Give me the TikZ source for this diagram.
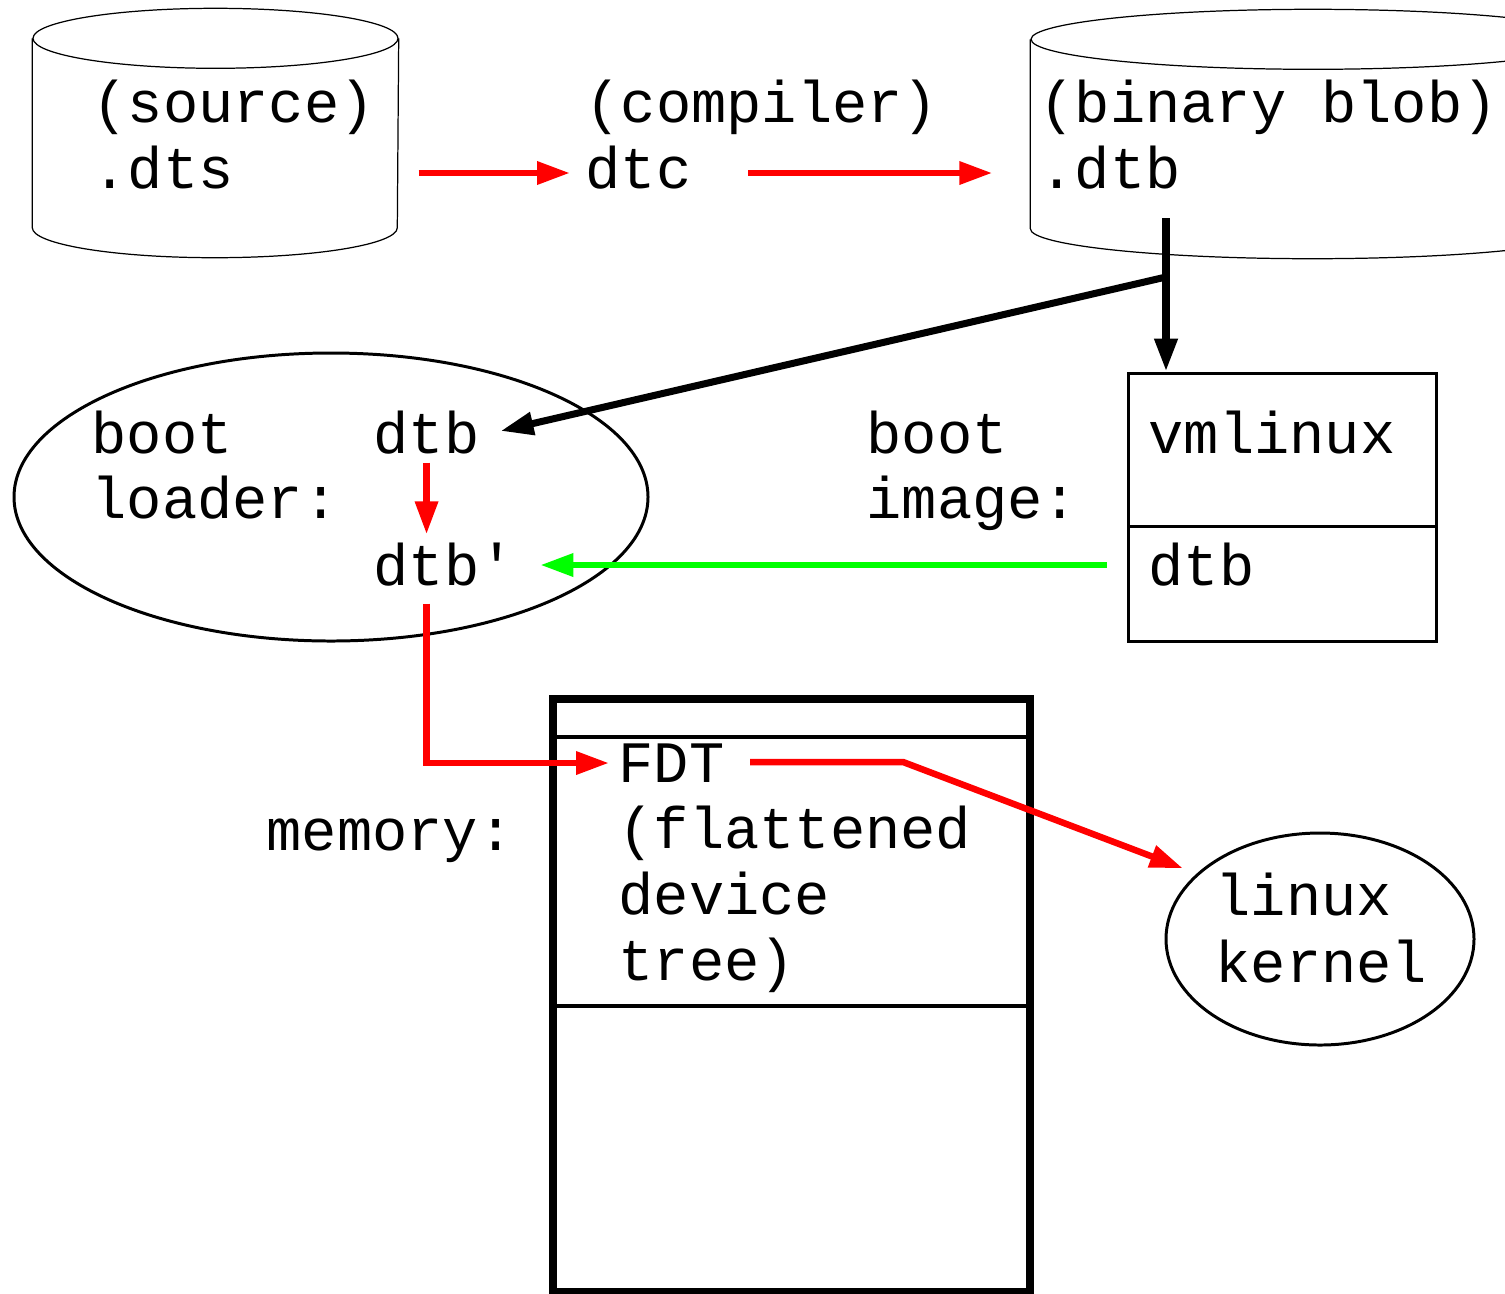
\documentclass[tikz,border=0pt]{standalone}
\usepackage{fontspec}
\usepackage{tikz}
\usetikzlibrary{arrows.meta}
\usetikzlibrary{shapes.geometric}
\usetikzlibrary{positioning}
\newfontfamily\codefont{Liberation Mono}
\definecolor{flow-red}{HTML}{FF0000}
\definecolor{flow-green}{HTML}{00FF00}

\begin{document}
\begin{tikzpicture}[
    word/.style={font=\codefont\fontsize{16.7}{18.8}\selectfont, inner sep=0pt,
                 anchor=base west, text height=0.40cm, text depth=0cm},
    drum/.style={line width=0.35pt},
    frame/.style={draw, line width=0.85pt, inner sep=0pt},
    flow/.style={-{Triangle[length=3.3mm, width=2.2mm]}, line width=1.85pt},
]

    \useasboundingbox (0,0) rectangle (15.05,-12.93);
    \clip (0,0) rectangle (15.05,-12.93);

    % drums
    \begin{scope}[every node/.style={inner sep=0pt, minimum height=2.48cm}]
        \node[minimum width=3.65cm] (srcdb) at (2.155,-1.33) {};
        \node[minimum width=5.64cm] (blobdb) at (13.13,-1.34) {};
    \end{scope}
    \draw[drum] ([yshift=-3mm]srcdb.north) ellipse [x radius=1.825, y radius=0.30];
    \draw[drum] ([yshift=-3mm]srcdb.north west) -- ([yshift=3mm]srcdb.south west)
        arc[start angle=180, end angle=360, x radius=1.825, y radius=0.30] -- ([yshift=-3mm]srcdb.north east);
    \draw[drum] ([yshift=-3mm]blobdb.north) ellipse [x radius=2.82, y radius=0.30];
    \draw[drum] ([yshift=-3mm]blobdb.north west) -- ([yshift=3mm]blobdb.south west)
        arc[start angle=180, end angle=360, x radius=2.82, y radius=0.30] -- ([yshift=-3mm]blobdb.north east);

    % boxes and ellipses
    \node[ellipse, draw, line width=0.85pt, inner sep=0pt, minimum width=6.34cm, minimum height=2.88cm] (loader) at (3.31,-4.97) {};
    \node[ellipse, draw, line width=0.85pt, inner sep=0pt, minimum width=3.08cm, minimum height=2.12cm] (kern) at (13.20,-9.39) {};
    \node[frame, minimum width=3.08cm, minimum height=1.53cm] (vml) at (12.82,-4.495) {};
    \node[frame, minimum width=3.08cm, minimum height=1.15cm] (img) at (12.82,-5.835) {};
    \node[draw, line width=2.1pt, inner sep=0pt, minimum width=4.77cm, minimum height=5.93cm] (mem) at (7.915,-9.955) {};
    \draw[line width=1.2pt] (mem.west |- 0,-7.37) -- (mem.east |- 0,-7.37);
    \draw[line width=1pt] (mem.west |- 0,-10.06) -- (mem.east |- 0,-10.06);

    % labels
    \begin{scope}[every node/.style={word}]
        \node (src) at (0.92,-1.22) {(source)};
        \node (dts) at (0.92,-1.88) {.dts};
        \node (comp) at (5.85,-1.22) {(compiler)};
        \node (dtc) at (5.85,-1.88) {dtc};
        \node (blob) at (10.39,-1.22) {(binary blob)};
        \node (dtbfile) at (10.39,-1.88) {.dtb};

        \node (boot) at (0.91,-4.53) {boot};
        \node (ldr) at (0.91,-5.18) {loader:};
        \node (dtb) at (3.73,-4.53) {dtb};
        \node (dtbp) at (3.73,-5.85) {dtb'};

        \node (bimg) at (8.66,-4.53) {boot};
        \node (image) at (8.66,-5.18) {image:};
        \node (vmlinux) at (11.48,-4.53) {vmlinux};
        \node (imgdtb) at (11.48,-5.85) {dtb};

        \node (memory) at (2.66,-8.50) {memory:};
        \node (fdt) at (6.18,-7.82) {FDT};
        \node (flat) at (6.18,-8.48) {(flattened};
        \node (device) at (6.18,-9.14) {device};
        \node (tree) at (6.18,-9.80) {tree)};

        \node (linux) at (12.15,-9.15) {linux};
        \node (kernel) at (12.15,-9.82) {kernel};
    \end{scope}

    % compile chain
    \draw[flow, flow-red] ([xshift=2mm, yshift=-0.5mm]srcdb.east |- dtc.west) -- ([xshift=-1.5mm, yshift=-0.5mm]dtc.west);
    \draw[flow, flow-red] ([xshift=5.6mm, yshift=-0.5mm]dtc.east) -- ([xshift=-3.8mm, yshift=-0.5mm]blobdb.west |- dtc.east);

    % blob goes into the image and to the loader
    \coordinate (drop) at (11.66,-2.18);
    \coordinate (fork) at (11.66,-2.77);
    \draw[flow, line width=2.1pt] (drop) -- (drop |- vml.north);
    \draw[flow, line width=2pt] (fork) -- ([xshift=2.05mm, yshift=0.2mm]dtb.east);

    % boot
    \draw[flow, flow-red] ([yshift=-0.9mm]dtb.south) -- ([yshift=1mm]dtb.south |- dtbp.north);
    \draw[flow, flow-green] ([xshift=-2mm]img.west |- dtbp.east) -- ([xshift=2.5mm]dtbp.east);
    \draw[flow, flow-red] ([yshift=-1.8mm]dtb.south |- dtbp.south) |- ([xshift=-0.9mm, yshift=-0.1mm]fdt.west);
    \draw[flow, flow-red, shorten >=1.5mm] ([xshift=2.5mm]fdt.east) -- ++(1.53,0) -- (kern.152);

\end{tikzpicture}
\end{document}
